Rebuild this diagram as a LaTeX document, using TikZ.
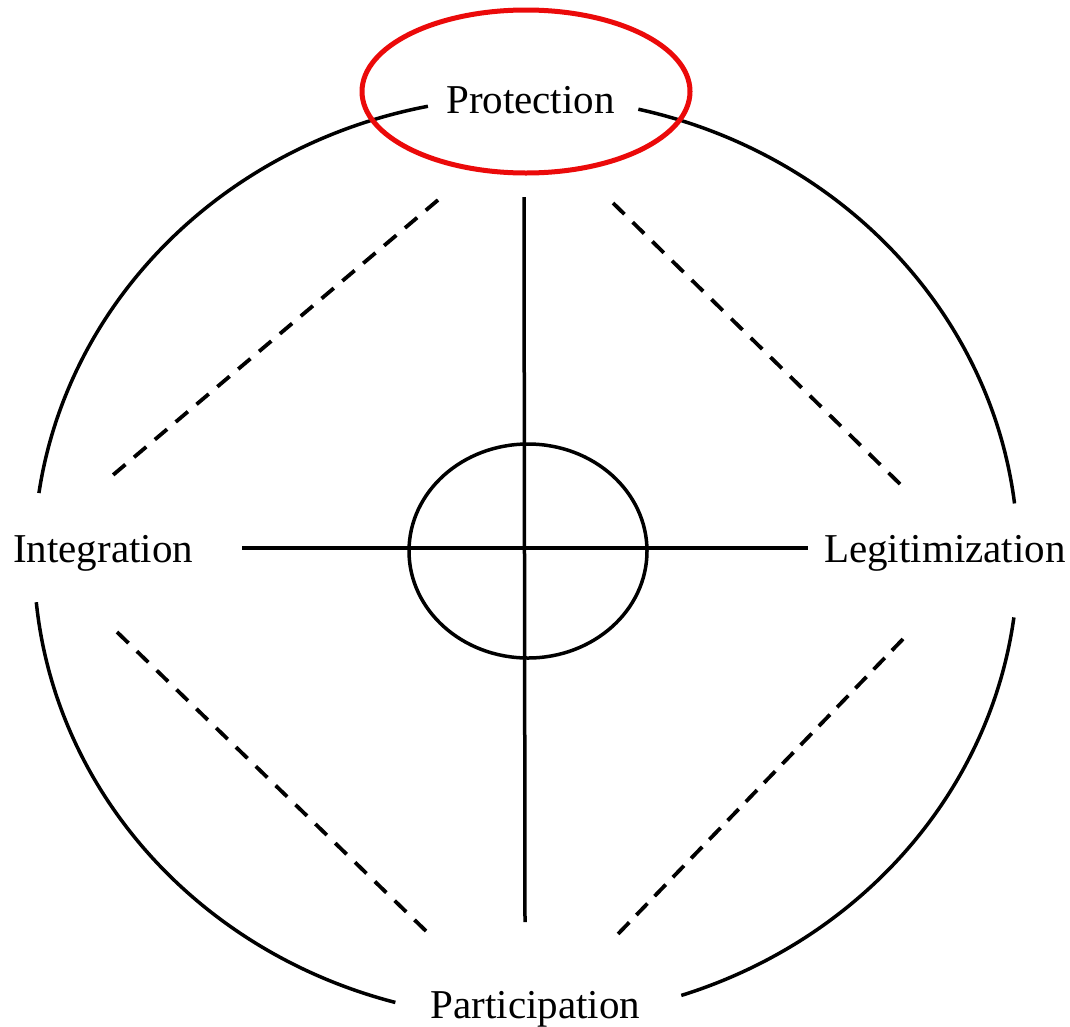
\documentclass[tikz,border=0pt]{standalone}
\usepackage{fontspec}
\setmainfont{Liberation Serif}
\usetikzlibrary{shapes.geometric}
\begin{document}
\begin{tikzpicture}[x=1pt,y=-1pt,
  solidline/.style={line width=3.5pt, black},
  dashline/.style={line width=3.8pt, black, dash pattern=on 16pt off #1},
  label/.style={inner sep=0pt, anchor=base, font=\fontsize{41}{41}\selectfont},
  redring/.style={line width=5pt, draw={rgb,255:red,235;green,10;blue,10}}
]
\useasboundingbox (0,0) rectangle (1070,1026);
\fill[white] (0,0) rectangle (1070,1026);

% labels
\node[label] (prot) at (530.5,113) {Protection};
\node[label, anchor=base west] (integ) at (13,562) {Integration};
\node[label, anchor=base west] (legit) at (824,562) {Legitimization};
\node[label] (part) at (535.5,1018) {Participation};

% outer circle arcs (centre 526,558; radii 492 x 461)
\coordinate (C) at (526,558);
\draw[solidline] (C) ++(283.2:492 and 461) arc[start angle=283.2, end angle=353.2, x radius=492, y radius=461];
\draw[solidline] (C) ++(7.4:492 and 461) arc[start angle=7.4, end angle=71.6, x radius=492, y radius=461];
\draw[solidline] (C) ++(105.4:492 and 461) arc[start angle=105.4, end angle=174.5, x radius=492, y radius=461];
\draw[solidline] (C) ++(188.1:492 and 461) arc[start angle=188.1, end angle=258.5, x radius=492, y radius=461];

% cross
\coordinate (vtop) at (524,197);
\coordinate (vbot) at (525,922);
\coordinate (hl) at (242,548);
\coordinate (hr) at (808,548);
\draw[solidline] (vtop) -- (vbot);
\draw[solidline] (hl) -- (hr);

% inner circle
\node[draw, solidline, ellipse, minimum width=238pt, minimum height=214pt, inner sep=0pt] (core) at (528,551) {};

% dashed diagonals
\coordinate (tl1) at (438,200); \coordinate (tl2) at (113,475);
\coordinate (tr1) at (613,203); \coordinate (tr2) at (900,484);
\coordinate (bl1) at (117,632); \coordinate (bl2) at (426,931);
\coordinate (br1) at (903,639); \coordinate (br2) at (618,934);
\draw[dashline=11.3pt] (tl1) -- (tl2);
\draw[dashline=11.55pt] (tr1) -- (tr2);
\draw[dashline=11.6pt] (bl1) -- (bl2);
\draw[dashline=10.27pt] (br1) -- (br2);

% red highlight
\draw[redring] (526,91.5) ellipse[x radius=164, y radius=81.5];
\end{tikzpicture}
\end{document}
